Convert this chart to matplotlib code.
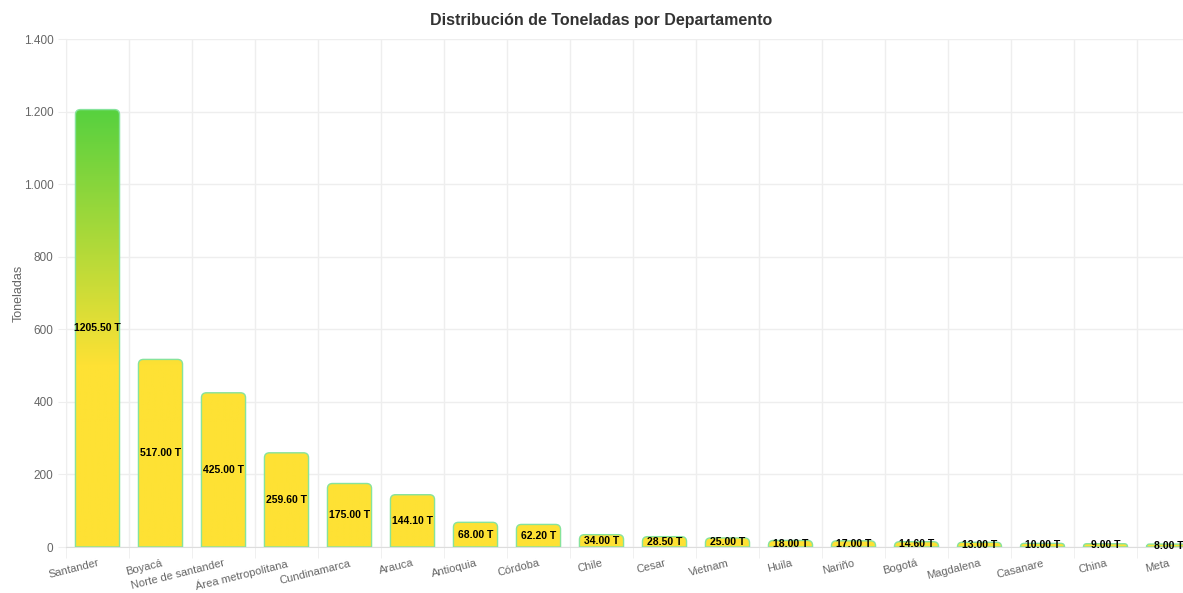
import numpy as np
import matplotlib
matplotlib.use('Agg')
import matplotlib.pyplot as plt
from matplotlib.path import Path
from matplotlib.patches import PathPatch
from matplotlib.colors import LinearSegmentedColormap
from matplotlib.ticker import FuncFormatter, MultipleLocator

plt.rcParams['font.family'] = ['Liberation Sans', 'DejaVu Sans']

departamentos = ["Santander", "Boyacá", "Norte de santander", "Área metropolitana",
                 "Cundinamarca", "Arauca", "Antioquia", "Córdoba", "Chile", "Cesar",
                 "Vietnam", "Huila", "Nariño", "Bogotá", "Magdalena", "Casanare",
                 "China", "Meta"]
toneladas = [1205.50, 517.00, 425.00, 259.60, 175.00, 144.10, 68.00, 62.20, 34.00,
             28.50, 25.00, 18.00, 17.00, 14.60, 13.00, 10.00, 9.00, 8.00]

YELLOW = '#FEE134'
GREEN = '#58D13F'
EDGE = '#86E39C'
TXT = '#666666'
GRID = '#EEEEEE'

W, H = 1183, 593
fig = plt.figure(figsize=(W / 100, H / 100), dpi=100)
ax_l, ax_r, ax_t, ax_b = 66, 1200, 39, 547
ax = fig.add_axes([ax_l / W, 1 - ax_b / H, (ax_r - ax_l) / W, (ax_b - ax_t) / H])

n = len(departamentos)
ymax = 1400
ax.set_xlim(-0.5, n - 0.5)
ax.set_ylim(0, ymax)

# pixel -> data scale, for corner radius in px
px_x = (ax_r - ax_l) / n
px_y = (ax_b - ax_t) / ymax
radius = 5

# gradient in chart coordinates: yellow below ~500, green at ~1200
cmap = LinearSegmentedColormap.from_list('yg', [(0, YELLOW), (500 / ymax, YELLOW),
                                                (1200 / ymax, GREEN), (1, GREEN)])
grad = np.linspace(0, 1, 512).reshape(-1, 1)


def rounded_top(x0, x1, top):
    ry = min(radius / px_y, top)
    rx = ry * px_y / px_x
    verts = [(x0, 0), (x0, top - ry), (x0, top), (x0 + rx, top),
             (x1 - rx, top), (x1, top), (x1, top - ry), (x1, 0), (x0, 0)]
    codes = [Path.MOVETO, Path.LINETO, Path.CURVE3, Path.CURVE3,
             Path.LINETO, Path.CURVE3, Path.CURVE3, Path.LINETO, Path.CLOSEPOLY]
    return Path(verts, codes)


bw = 0.7
for i, (name, v) in enumerate(zip(departamentos, toneladas)):
    x0, x1 = i - bw / 2, i + bw / 2
    p = rounded_top(x0, x1, v)
    im = ax.imshow(grad, cmap=cmap, vmin=0, vmax=1, origin='lower', aspect='auto',
                   extent=(x0, x1, 0, ymax), zorder=2, interpolation='bilinear')
    clip = PathPatch(p, transform=ax.transData, facecolor='none', edgecolor='none')
    ax.add_patch(clip)
    im.set_clip_path(clip)
    ax.add_patch(PathPatch(p, facecolor='none', edgecolor=EDGE, lw=1.0, zorder=3))
    ax.text(i, v / 2, f"{v:.2f} T", ha='center', va='center', fontsize=7.5,
            fontweight='bold', color='black', zorder=4)

ax.set_xlim(-0.5, n - 0.5)
ax.set_ylim(0, ymax)

# grid lines sit between categories
ax.set_xticks(np.arange(n))
ax.set_xticklabels(departamentos, rotation=14, ha='right', rotation_mode='anchor',
                   fontsize=8, color=TXT)
ax.set_xticks(np.arange(n) - 0.5, minor=True)
ax.tick_params(axis='x', which='major', length=0, pad=8)
ax.tick_params(axis='x', which='minor', length=8, color=GRID)
ax.grid(axis='x', which='minor', color=GRID, lw=1)
ax.yaxis.set_major_locator(MultipleLocator(200))
ax.yaxis.set_major_formatter(FuncFormatter(lambda y, _: f"{int(y):,}".replace(',', '.')))
ax.tick_params(axis='y', length=6, color=GRID, labelsize=8.5, labelcolor=TXT, pad=3)
ax.grid(axis='y', color=GRID, lw=1)
ax.set_axisbelow(True)

for s in ['top', 'right']:
    ax.spines[s].set_visible(False)
ax.spines['left'].set_color(GRID)
ax.spines['bottom'].set_color('#DDDDDD')

ax.set_ylabel('Toneladas', fontsize=9, color=TXT, labelpad=-1)
fig.text(601 / W, 1 - 20 / H, 'Distribución de Toneladas por Departamento',
         ha='center', va='center', fontsize=11.5, fontweight='bold', color='#333333')

fig.savefig('out.png', dpi=100)
